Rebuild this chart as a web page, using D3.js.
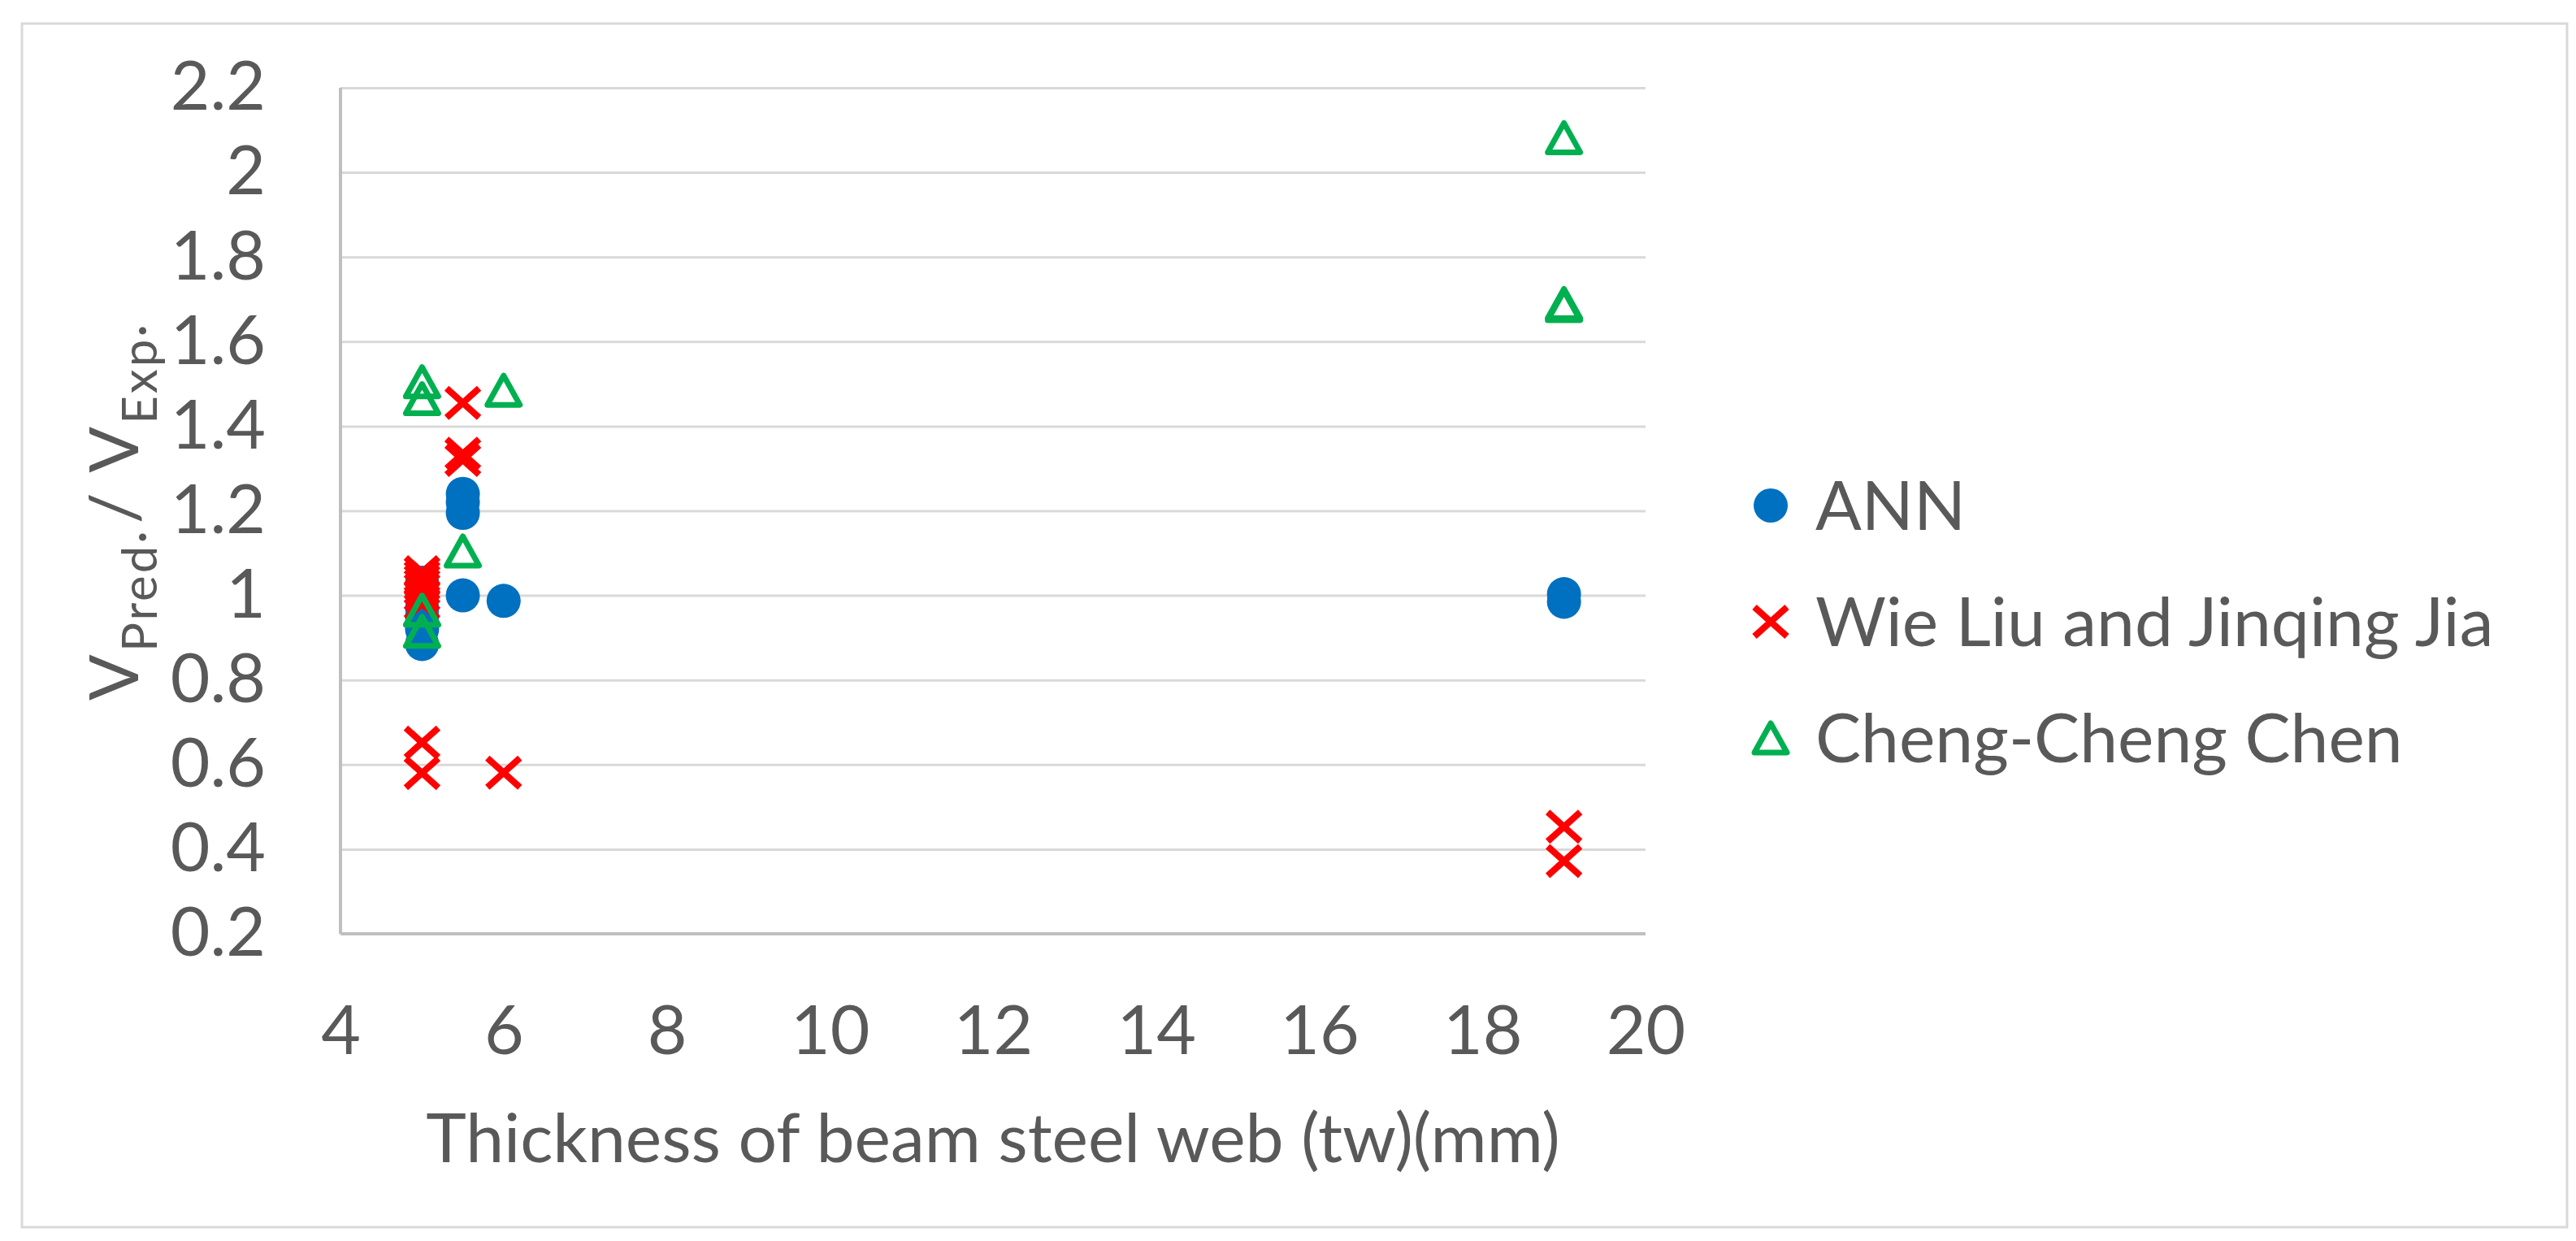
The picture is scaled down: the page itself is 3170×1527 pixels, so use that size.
<!DOCTYPE html>
<html>
<head>
  <script src="https://d3js.org/d3.v7.min.js"></script>
  <style>
    body { margin: 0; background: #fff; }
    text { font-family: Lato, "Open Sans", sans-serif; fill: #595959; }
  </style>
</head>
<body>
  <div id="chart_div"></div>

  <script>
    // series values
    var annX = [5, 5, 5, 5, 5, 5, 5.5, 5.5, 5.5, 5.5, 6, 19, 19];
    var annY = [1.03, 1.0, 0.97, 0.95, 0.92, 0.885, 1.24, 1.22, 1.195, 1.0, 0.987, 1.003, 0.985];

    var liuX = [5, 5, 5, 5, 5, 5, 5, 5, 5, 5.5, 5.5, 5.5, 6, 19, 19];
    var liuY = [1.055, 1.045, 1.035, 1.025, 1.015, 1.0, 0.98, 0.652, 0.58, 1.455, 1.335, 1.32, 0.581, 0.453, 0.372];

    var chenX = [5, 5, 5, 5, 5.5, 6, 19, 19, 19];
    var chenY = [1.505, 1.465, 0.965, 0.915, 1.105, 1.485, 2.082, 1.69, 1.685];

    var seriesNames = ["ANN", "Wie Liu and Jinqing Jia", "Cheng-Cheng Chen"];
    var seriesColors = ["#0070C0", "#FF0000", "#00B050"];

    var xTicks = [4, 6, 8, 10, 12, 14, 16, 18, 20];
    var yTicks = [0.2, 0.4, 0.6, 0.8, 1, 1.2, 1.4, 1.6, 1.8, 2, 2.2];

    // chart dimensions
    var W = 3170, H = 1527;
    var margin = { top: 108, right: 1145, bottom: 378, left: 419 };
    var width = W - margin.left - margin.right;
    var height = H - margin.top - margin.bottom;

    var root = d3.select("#chart_div")
      .append("svg")
      .attr("width", W)
      .attr("height", H);

    // outer chart border
    root.append("rect")
      .attr("x", 27).attr("y", 29)
      .attr("width", 3132).attr("height", 1481)
      .attr("fill", "none")
      .attr("stroke", "#D9D9D9")
      .attr("stroke-width", 3);

    var svg = root.append("g")
      .attr("transform", "translate(" + margin.left + "," + margin.top + ")");

    var x = d3.scaleLinear().domain([4, 20]).range([0, width]);
    var y = d3.scaleLinear().domain([0.2, 2.2]).range([height, 0]);

    // gridlines
    svg.append("g")
      .attr("class", "grid")
      .call(d3.axisLeft(y).tickValues(yTicks).tickSize(-width).tickFormat(""))
      .call(function(g) { g.select(".domain").remove(); })
      .selectAll("line")
      .attr("stroke", "#D9D9D9")
      .attr("stroke-width", 3);

    // y-axis labels
    svg.append("g")
      .attr("class", "y-axis")
      .call(d3.axisLeft(y).tickValues(yTicks).tickSize(0).tickPadding(92).tickFormat(function(d) { return String(d); }))
      .call(function(g) { g.select(".domain").remove(); })
      .selectAll("text")
      .style("font-size", "84px")
      .attr("fill", "#595959");

    // x-axis labels
    svg.append("g")
      .attr("class", "x-axis")
      .attr("transform", "translate(0," + height + ")")
      .call(d3.axisBottom(x).tickValues(xTicks).tickSize(0).tickPadding(88))
      .call(function(g) { g.select(".domain").remove(); })
      .selectAll("text")
      .style("font-size", "84px")
      .attr("fill", "#595959");

    // axis lines
    svg.append("line")
      .attr("x1", 0).attr("x2", 0).attr("y1", 0).attr("y2", height)
      .attr("stroke", "#BFBFBF").attr("stroke-width", 4);
    svg.append("line")
      .attr("x1", 0).attr("x2", width).attr("y1", height).attr("y2", height)
      .attr("stroke", "#BFBFBF").attr("stroke-width", 4);

    // markers
    var crossPath = "M-20,-18L20,18M-20,18L20,-18";
    var triPath = "M0,-18L20,18L-20,18Z";

    function drawMarker(sel, i) {
      if (i === 0) {
        sel.append("circle").attr("r", 21).attr("fill", seriesColors[0]);
      } else if (i === 1) {
        sel.append("path").attr("d", crossPath)
          .attr("fill", "none").attr("stroke", seriesColors[1]).attr("stroke-width", 8);
      } else {
        sel.append("path").attr("d", triPath)
          .attr("fill", "none").attr("stroke", seriesColors[2]).attr("stroke-width", 7)
          .attr("stroke-linejoin", "round");
      }
    }

    var allSeries = [
      annX.map(function(d, i) { return [d, annY[i]]; }),
      liuX.map(function(d, i) { return [d, liuY[i]]; }),
      chenX.map(function(d, i) { return [d, chenY[i]]; })
    ];

    allSeries.forEach(function(pts, s) {
      svg.append("g")
        .attr("class", "series series" + s)
        .selectAll("g")
        .data(pts)
        .enter()
        .append("g")
        .attr("transform", function(d) { return "translate(" + x(d[0]) + "," + y(d[1]) + ")"; })
        .each(function() { drawMarker(d3.select(this), s); });
    });

    // x-axis title
    root.append("text")
      .attr("x", margin.left + width / 2)
      .attr("y", 1430)
      .style("text-anchor", "middle")
      .style("font-size", "84px")
      .text("Thickness of beam steel web (tw)(mm)");

    // y-axis title
    var yt = root.append("text")
      .attr("transform", "translate(170,629) rotate(-90)")
      .style("text-anchor", "middle")
      .style("font-size", "84px")
      .style("letter-spacing", "3px");
    yt.append("tspan").text("V");
    yt.append("tspan").attr("dy", 23).style("font-size", "60px").text("Pred·");
    yt.append("tspan").attr("dy", -23).attr("dx", 6).text("/ V");
    yt.append("tspan").attr("dy", 23).style("font-size", "60px").text("Exp·");

    // legend
    var legend = root.append("g").attr("class", "legend")
      .selectAll("g")
      .data(seriesNames)
      .enter()
      .append("g")
      .attr("transform", function(d, i) { return "translate(2179," + (622 + i * 143) + ")"; });

    legend.each(function(d, i) { drawMarker(d3.select(this), i); });

    legend.append("text")
      .attr("x", 55)
      .attr("y", 0)
      .attr("dy", "0.36em")
      .style("font-size", "84px")
      .text(function(d) { return d; });
  </script>
</body>
</html>
